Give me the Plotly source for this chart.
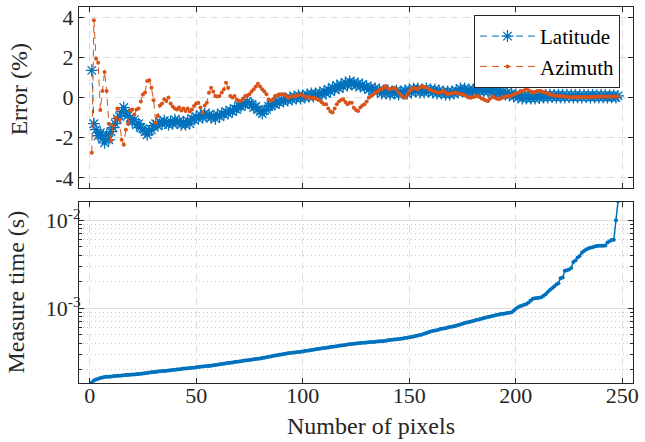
import math
import plotly.graph_objects as go

pixels = list(range(1, 249))

latitude_err = [
    1.35, -1.30, -1.60, -1.90, -1.75, -2.05, -2.25, -1.85, -2.10, -1.70,
    -1.50, -1.30, -1.05, -0.95, -0.70, -0.50, -0.75, -0.90, -1.00, -1.20,
    -1.10, -1.35, -1.30, -1.50, -1.55, -1.70, -1.85, -1.65, -1.60, -1.40,
    -1.30, -1.40, -1.20, -1.30, -1.15, -1.25, -1.35, -1.20, -1.30, -1.10,
    -1.25, -1.15, -1.35, -1.20, -1.35, -1.15, -1.30, -1.05, -1.10, -0.95,
    -1.05, -0.85, -1.00, -0.80, -0.95, -0.85, -1.00, -0.90, -1.05, -0.85,
    -0.95, -0.80, -0.85, -0.70, -0.80, -0.65, -0.70, -0.55, -0.60, -0.40,
    -0.45, -0.30, -0.35, -0.20, -0.30, -0.35, -0.50, -0.45, -0.60, -0.70,
    -0.80, -0.65, -0.60, -0.45, -0.40, -0.30, -0.35, -0.20, -0.25, -0.10,
    -0.20, -0.05, -0.15, 0.00, -0.10, 0.05, -0.05, 0.10, -0.05, 0.10,
    0.00, 0.15, 0.05, 0.20, 0.05, 0.20, 0.10, 0.25, 0.15, 0.30,
    0.20, 0.40, 0.30, 0.50, 0.40, 0.60, 0.45, 0.65, 0.55, 0.75,
    0.60, 0.80, 0.65, 0.75, 0.60, 0.70, 0.55, 0.65, 0.50, 0.55,
    0.40, 0.50, 0.35, 0.45, 0.30, 0.40, 0.20, 0.35, 0.20, 0.35,
    0.15, 0.30, 0.20, 0.35, 0.15, 0.30, 0.20, 0.35, 0.20, 0.40,
    0.25, 0.45, 0.30, 0.45, 0.25, 0.40, 0.25, 0.45, 0.30, 0.40,
    0.25, 0.40, 0.20, 0.35, 0.20, 0.30, 0.15, 0.30, 0.15, 0.30,
    0.20, 0.35, 0.25, 0.45, 0.30, 0.45, 0.25, 0.40, 0.25, 0.40,
    0.30, 0.45, 0.30, 0.50, 0.30, 0.45, 0.30, 0.45, 0.25, 0.40,
    0.20, 0.35, 0.20, 0.30, 0.15, 0.25, 0.10, 0.20, 0.05, 0.15,
    0.00, 0.12, -0.05, 0.10, -0.05, 0.10, -0.05, 0.08, -0.05, 0.10,
    -0.02, 0.12, 0.00, 0.12, 0.00, 0.14, 0.02, 0.13, 0.00, 0.14,
    0.01, 0.13, 0.00, 0.12, 0.02, 0.13, 0.00, 0.12, 0.01, 0.12,
    0.00, 0.12, 0.02, 0.11, 0.00, 0.12, 0.01, 0.11, 0.00, 0.12,
    0.01, 0.11, 0.00, 0.10, 0.01, 0.10, 0.00, 0.08,
]

azimuth_err = [
    -2.74, 3.84, 1.93, 1.73, -0.62, 0.32, 1.27, 0.32, -1.30, -2.15,
    -1.40, -1.00, -0.55, -1.10, -2.10, -2.35, -1.60, -1.30, -0.65, -0.60,
    -0.85, -0.60, -0.55, -0.20, 0.15, 0.25, 0.82, 0.86, 0.49, -0.14,
    -1.25, -0.90, -0.40, -0.30, -0.09, -0.17, 0.00, -0.30, -0.45, -0.55,
    -0.60, -0.50, -0.65, -0.55, -0.67, -0.55, -0.70, -0.60, -0.42, -0.30,
    -0.26, -0.50, -0.75, -0.40, -0.26, 0.24, 0.49, 0.30, 0.07, 0.05,
    0.07, 0.25, 0.41, 0.74, 0.49, 0.07, 0.00, 0.07, -0.10, -0.17,
    -0.17, -0.05, 0.07, 0.10, 0.16, 0.30, 0.41, 0.55, 0.69, 0.55,
    0.41, 0.30, 0.16, -0.09, -0.17, -0.10, 0.07, 0.10, 0.16, 0.16,
    0.16, 0.10, -0.01, 0.02, 0.07, 0.05, 0.07, 0.12, 0.16, 0.10,
    0.05, 0.00, 0.02, -0.05, 0.00, -0.05, -0.09, -0.15, -0.25, -0.34,
    -0.34, -0.55, -0.70, -0.75, -0.55, -0.34, -0.20, -0.12, -0.09, -0.22,
    -0.34, -0.26, -0.26, -0.51, -0.62, -0.67, -0.50, -0.40, -0.34, -0.20,
    -0.01, 0.08, 0.15, 0.24, 0.30, 0.38, 0.41, 0.50, 0.57, 0.45,
    0.41, 0.45, 0.49, 0.40, 0.24, 0.12, 0.05, -0.01, 0.15, 0.32,
    0.40, 0.49, 0.45, 0.41, 0.50, 0.57, 0.52, 0.49, 0.42, 0.38,
    0.32, 0.30, 0.26, 0.24, 0.28, 0.32, 0.25, 0.16, 0.20, 0.22,
    0.24, 0.24, 0.20, 0.18, 0.16, 0.12, 0.06, 0.00, -0.01, 0.02,
    0.05, 0.07, 0.03, -0.05, -0.10, -0.15, -0.17, -0.05, 0.07, 0.00,
    -0.05, -0.09, -0.05, 0.00, 0.05, 0.07, 0.05, 0.10, 0.15, 0.20,
    0.24, 0.28, 0.32, 0.36, 0.41, 0.36, 0.30, 0.24, 0.28, 0.32,
    0.32, 0.30, 0.27, 0.24, 0.20, 0.15, 0.12, 0.10, 0.08, 0.07,
    0.07, 0.06, 0.05, 0.04, 0.03, 0.03, 0.02, 0.02, 0.02, 0.02,
    0.02, 0.02, 0.02, 0.03, 0.02, 0.03, 0.04, 0.04, 0.05, 0.05,
    0.05, 0.05, 0.04, 0.05, 0.05, 0.05, 0.04, 0.05,
]

# measure time in units of 1e-4 s
measure_time_e4 = [
    1.42,
    1.50, 1.54, 1.57, 1.60, 1.62, 1.64, 1.65, 1.66, 1.67,
    1.68, 1.69, 1.70, 1.70, 1.71, 1.72, 1.73, 1.73, 1.74, 1.75, 1.76, 1.77, 1.78, 1.79, 1.80,
    1.81, 1.83, 1.85, 1.86, 1.87, 1.88, 1.90, 1.91, 1.92, 1.93, 1.94, 1.95, 1.96, 1.98, 1.99,
    2.00, 2.02, 2.03, 2.05, 2.06, 2.07, 2.08, 2.09, 2.10, 2.12,
    2.13, 2.15, 2.16, 2.18, 2.19, 2.20, 2.21, 2.23, 2.25, 2.27, 2.29, 2.31, 2.33, 2.35, 2.37,
    2.39, 2.41, 2.43, 2.45, 2.47, 2.49, 2.51, 2.53, 2.55, 2.57,
    2.59, 2.61, 2.63, 2.65, 2.67, 2.70, 2.73, 2.76, 2.79, 2.82, 2.85, 2.88, 2.91, 2.94, 2.97,
    3.00, 3.03, 3.06, 3.09, 3.11, 3.13, 3.15, 3.17, 3.19, 3.21,
    3.24, 3.27, 3.30, 3.33, 3.36, 3.39, 3.42, 3.45, 3.48, 3.51, 3.54, 3.57, 3.60, 3.63, 3.66,
    3.69, 3.72, 3.75, 3.78, 3.81, 3.84, 3.87, 3.90, 3.92, 3.95,
    3.98, 4.00, 4.02, 4.04, 4.06, 4.08, 4.10, 4.12, 4.14, 4.16, 4.18, 4.20, 4.23, 4.26, 4.30,
    4.33, 4.36, 4.39, 4.42, 4.45, 4.48, 4.52, 4.56, 4.60, 4.65,
    4.70, 4.76, 4.82, 4.88, 4.94, 5.00, 5.10, 5.20, 5.30, 5.40, 5.50, 5.55, 5.60, 5.70, 5.80,
    5.85, 5.90, 6.00, 6.10, 6.15, 6.20, 6.30, 6.40, 6.50, 6.65,
    6.75, 6.85, 6.95, 7.05, 7.15, 7.25, 7.35, 7.45, 7.55, 7.70, 7.80, 7.90, 8.00, 8.10, 8.25,
    8.35, 8.45, 8.55, 8.62, 8.70, 8.78, 8.85, 8.95, 9.30, 9.80,
    10.2, 10.5, 10.7, 10.9, 11.1, 11.6, 12.2, 12.8, 12.9, 13.0, 13.1, 13.3, 13.8, 14.4, 15.2,
    16.0, 16.8, 17.6, 18.5, 19.2, 21.8, 22.3, 26.5, 27.0, 27.5,
    28.6, 33.5, 34.8, 37.5, 39.0, 42.5, 44.5, 46.5, 47.5, 48.5, 49.2, 50.0, 50.8, 51.0, 51.2,
    51.2, 51.5, 55.8, 57.5, 59.4, 60.0, 100.0, 165.0,
]
measure_time = [v * 1e-4 for v in measure_time_e4]

x_ticks = [0, 50, 100, 150, 200, 250]
err_ticks = [-4, -2, 0, 2, 4]
time_ticks = [1e-3, 1e-2]
time_ticktext = ["10<sup>-3</sup>", "10<sup>-2</sup>"]
time_minor = [k * 1e-4 for k in range(2, 10)] + [k * 1e-3 for k in range(2, 10)]

BLUE = "#0072BD"
ORANGE = "#D95319"
AX = "#262626"
GRID = "#dedede"
MGRID = "#c8c8c8"
FONT = "Liberation Serif, Times New Roman, serif"

fig = go.Figure()
fig.add_trace(go.Scatter(
    x=pixels, y=latitude_err, name="Latitude", mode="lines+markers",
    line=dict(color=BLUE, width=1, dash="7px,5px"),
    marker=dict(symbol="asterisk-open", size=10, color=BLUE, line=dict(color=BLUE, width=1.3)),
    xaxis="x", yaxis="y",
))
fig.add_trace(go.Scatter(
    x=pixels, y=azimuth_err, name="Azimuth", mode="lines+markers",
    line=dict(color=ORANGE, width=1, dash="7px,5px"),
    marker=dict(symbol="circle", size=4, color=ORANGE),
    xaxis="x", yaxis="y",
))
fig.add_trace(go.Scatter(
    x=pixels, y=measure_time, name="Measure time", mode="lines+markers",
    line=dict(color=BLUE, width=1.5),
    marker=dict(symbol="circle", size=4, color=BLUE),
    xaxis="x2", yaxis="y2", showlegend=False,
))

common = dict(
    showline=True, linecolor=AX, linewidth=1, mirror="allticks",
    ticks="inside", ticklen=5, tickcolor=AX, tickwidth=1,
    zeroline=False, tickfont=dict(family=FONT, size=22, color=AX),
)

fig.update_layout(
    width=645, height=442,
    margin=dict(l=79, r=12, t=5, b=59),
    paper_bgcolor="white", plot_bgcolor="white",
    font=dict(family=FONT, color=AX, size=22),
    xaxis=dict(domain=[0, 1], anchor="y", range=[-5, 255], tickvals=x_ticks,
               showticklabels=False, showgrid=True, gridcolor=GRID, griddash="7px,5px",
               **common),
    yaxis=dict(domain=[0.5185, 1], anchor="x", range=[-4.5, 4.5], tickvals=err_ticks,
               ticktext=[str(t) for t in err_ticks],
               showgrid=True, gridcolor=GRID, griddash="7px,5px", **common),
    xaxis2=dict(domain=[0, 1], anchor="y2", range=[-5, 255], tickvals=x_ticks,
                showgrid=True, gridcolor=GRID, griddash="7px,5px",
                ticklabelstandoff=-7, **common),
    yaxis2=dict(domain=[0, 0.4815], anchor="x2", type="log",
                range=[math.log10(1.405e-4), math.log10(1.61e-2)],
                tickvals=time_ticks, ticktext=time_ticktext,
                showgrid=True, gridcolor=GRID, ticklabelstandoff=-7,
                minor=dict(tickvals=time_minor, ticks="inside", ticklen=3, tickcolor=AX,
                           showgrid=True, gridcolor=MGRID, griddash="1px,3px", gridwidth=1),
                **common),
    legend=dict(x=(620 - 79) / 554, y=1 - (13 - 5) / 378, xanchor="right", yanchor="top",
                bgcolor="white", bordercolor=AX, borderwidth=1,
                font=dict(family=FONT, size=21, color="black"), itemwidth=55,
                tracegroupgap=0),
    showlegend=True,
)

fig.add_annotation(text="Error (%)", xref="paper", yref="paper",
                   x=(19 - 79) / 554, y=(383 - 88) / 378, textangle=-90,
                   showarrow=False, xanchor="center", yanchor="middle",
                   font=dict(family=FONT, size=24, color=AX))
fig.add_annotation(text="Measure time (s)", xref="paper", yref="paper",
                   x=(16 - 79) / 554, y=(383 - 292) / 378, textangle=-90,
                   showarrow=False, xanchor="center", yanchor="middle",
                   font=dict(family=FONT, size=24, color=AX))
fig.add_annotation(text="Number of pixels", xref="paper", yref="paper",
                   x=(371 - 79) / 554, y=-(426 - 383) / 378,
                   showarrow=False, xanchor="center", yanchor="middle",
                   font=dict(family=FONT, size=24, color=AX))

fig.write_html("out.html")
